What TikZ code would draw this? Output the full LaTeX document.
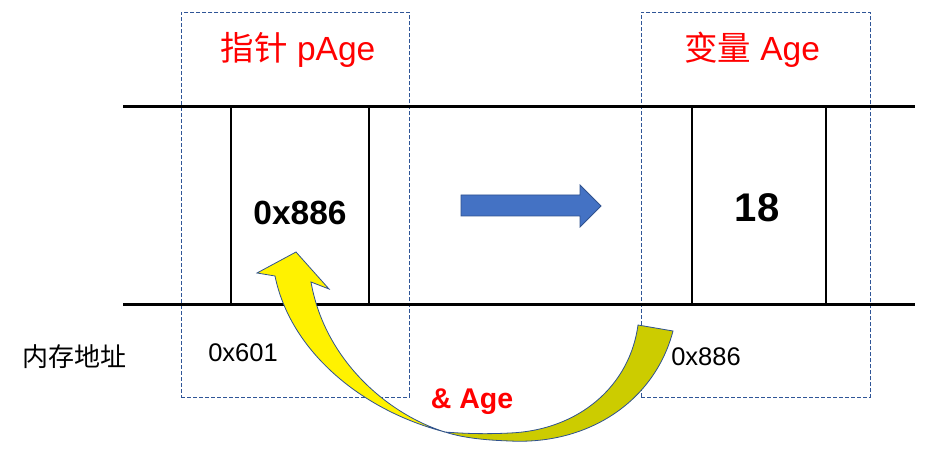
\documentclass[tikz,border=0pt]{standalone}
\usepackage{fontspec}
\setmainfont{Liberation Sans}
\newfontfamily\cjk{Noto Sans CJK SC}
\begin{document}
\begin{tikzpicture}[x=1pt,y=-1pt,
  rail/.style={line width=3pt},
  wall/.style={line width=2pt},
  dbox/.style={draw={rgb,255:red,47;green,85;blue,151},line width=0.8pt,dash pattern=on 4pt off 2pt},
  title/.style={text=red,font=\fontsize{33.5}{33.5}\selectfont},
  small/.style={font=\fontsize{25.5}{25.5}\selectfont},
  bigval/.style={font=\bfseries\fontsize{33.5}{33.5}\selectfont},
  outl/.style={draw={rgb,255:red,47;green,82;blue,143},line width=0.8pt,line join=miter}]
\useasboundingbox (0,0) rectangle (932,462);
\definecolor{bluefill}{RGB}{68,114,196}
\definecolor{olive2}{RGB}{204,204,0}
% rails
\coordinate (r1a) at (123,107); \coordinate (r1b) at (915,107);
\coordinate (r2a) at (123,305); \coordinate (r2b) at (915,305);
% dashed boxes
\node[dbox,minimum width=228pt,minimum height=385pt,anchor=north west,inner sep=0pt] (pbox) at (181,12) {};
\node[dbox,minimum width=229pt,minimum height=385pt,anchor=north west,inner sep=0pt] (abox) at (641,12) {};
\draw[rail] (r1a) -- (r1b);
\draw[rail] (r2a) -- (r2b);
% cell walls
\coordinate (w1t) at (231,107); \coordinate (w1b) at (231,305);
\coordinate (w2t) at (369,107); \coordinate (w2b) at (369,305);
\coordinate (w3t) at (692,107); \coordinate (w3b) at (692,305);
\coordinate (w4t) at (826,107); \coordinate (w4b) at (826,305);
\draw[wall] (w1t) -- (w1b); \draw[wall] (w2t) -- (w2b);
\draw[wall] (w3t) -- (w3b); \draw[wall] (w4t) -- (w4b);
% titles
\node[title] (t1) at (298,50) {{\cjk 指针} pAge};
\node[title] (t2) at (752,50) {{\cjk 变量} Age};
% values
\node[bigval] (v1) at (300,213) {0x886};
\node[font=\bfseries\fontsize{40}{40}\selectfont] (v2) at (757,208) {18};
% addresses
\node[font=\cjk\fontsize{26}{26}\selectfont] (lbl) at (74,357) {内存地址};
\node[small] (a1) at (243,353) {0x601};
\node[small] (a2) at (706,357) {0x886};
% blue arrow
\draw[outl,fill=bluefill] (461,195) -- (580,195) -- (580,185) -- (601,206) -- (580,227) -- (580,216) -- (461,216) -- cycle;
% curved arrow (olive part)
\draw[outl,fill=olive2] (638,325) -- (673,331)
  .. controls (655,400) and (590,445) .. (510,441)
  .. controls (480,440) and (460,437) .. (445,432)
  .. controls (470,434) and (490,434) .. (510,433)
  .. controls (580,430) and (630,385) .. cycle;
% curved arrow (yellow part)
\draw[outl,fill=yellow] (445,432)
  .. controls (360,410) and (290,350) .. (275,276)
  -- (257,273) -- (296,252) -- (329,289) -- (311,282)
  .. controls (325,362) and (390,415) .. cycle;
\node[text=red,font=\bfseries\fontsize{28.5}{28.5}\selectfont] (amp) at (472,402) {\& Age};
\end{tikzpicture}
\end{document}
